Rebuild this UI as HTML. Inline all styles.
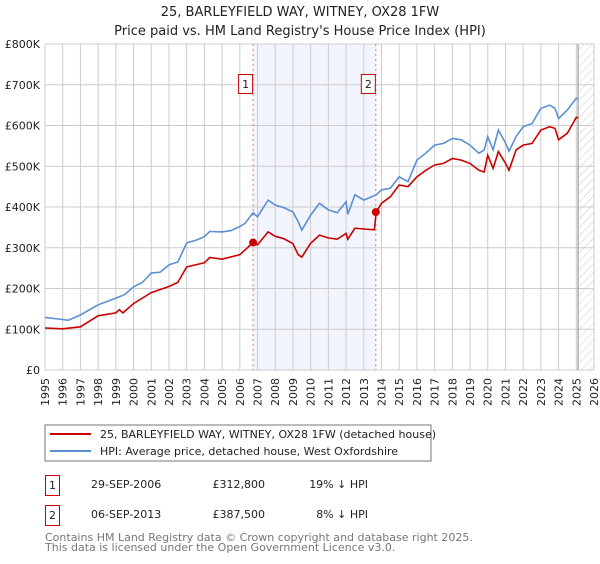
<!DOCTYPE html>
<html><head><meta charset="utf-8"><style>
body{margin:0;background:#fff;width:600px;height:560px;overflow:hidden;font-family:"DejaVu Sans","Liberation Sans",sans-serif}
svg text{font-family:"DejaVu Sans","Liberation Sans",sans-serif}
</style></head><body>
<svg id="chart" width="600" height="560">
<defs><pattern id="hatch" width="6" height="6" patternUnits="userSpaceOnUse" patternTransform="rotate(45)"><line x1="0" y1="0" x2="0" y2="6" stroke="#bbb" stroke-width="0.8"/></pattern></defs>
<text x="300" y="16" text-anchor="middle" font-size="13" fill="#222">25, BARLEYFIELD WAY, WITNEY, OX28 1FW</text>
<text x="300" y="35" text-anchor="middle" font-size="13" fill="#222">Price paid vs. HM Land Registry's House Price Index (HPI)</text>
<g id="plot"></g>
<rect x="45" y="425" width="386" height="36" fill="#fff" stroke="#777"/>
<line x1="50" y1="434" x2="91" y2="434" stroke="#cc0000" stroke-width="2"/>
<text x="100" y="438" font-size="11" fill="#222">25, BARLEYFIELD WAY, WITNEY, OX28 1FW (detached house)</text>
<line x1="50" y1="451" x2="91" y2="451" stroke="#5b8fd4" stroke-width="2"/>
<text x="100" y="455" font-size="11" fill="#222">HPI: Average price, detached house, West Oxfordshire</text>
<g font-size="11" fill="#222">
<rect x="45.5" y="475.5" width="14" height="20" fill="none" stroke="#cc0000"/>
<text x="52.5" y="489" text-anchor="middle">1</text>
<text x="91" y="488">29-SEP-2006</text>
<text x="265" y="488" text-anchor="end">£312,800</text>
<text x="368" y="488" text-anchor="end">19% ↓ HPI</text>
<rect x="45.5" y="505.5" width="14" height="20" fill="none" stroke="#cc0000"/>
<text x="52.5" y="519" text-anchor="middle">2</text>
<text x="91" y="518">06-SEP-2013</text>
<text x="265" y="518" text-anchor="end">£387,500</text>
<text x="368" y="518" text-anchor="end">8% ↓ HPI</text>
</g>
<text x="45" y="541" font-size="11" fill="#777">Contains HM Land Registry data © Crown copyright and database right 2025.</text>
<text x="45" y="551" font-size="11" fill="#777">This data is licensed under the Open Government Licence v3.0.</text>
</svg>
<script>
const hpiYears=[1995,1996,1996.3,1997,1998,1999,1999.5,2000,2000.5,2001,2001.5,2002,2002.5,2003,2003.5,2004,2004.3,2005,2005.5,2006,2006.3,2006.75,2007,2007.6,2008,2008.5,2009,2009.3,2009.5,2010,2010.5,2011,2011.5,2012,2012.1,2012.5,2013,2013.7,2014,2014.5,2015,2015.5,2016,2016.5,2017,2017.5,2018,2018.5,2019,2019.5,2019.8,2020,2020.3,2020.6,2021,2021.2,2021.6,2022,2022.5,2023,2023.5,2023.8,2024,2024.5,2025,2025.1];
const hpiValues=[129,124,122,135,160,176,185,204,215,238,240,258,265,312,318,327,340,339,342,352,360,386,376,417,405,398,388,364,343,380,409,393,386,413,382,430,417,430,442,446,474,462,515,532,552,556,568,565,552,532,540,573,540,589,557,537,573,597,605,642,650,642,617,638,667,665];
const priceYears=[1995,1996,1997,1998,1999,1999.2,1999.4,2000,2001,2002,2002.5,2003,2004,2004.3,2005,2006,2006.75,2007,2007.6,2008,2008.5,2009,2009.3,2009.5,2010,2010.5,2011,2011.5,2012,2012.1,2012.5,2013,2013.6,2013.7,2014,2014.5,2015,2015.5,2016,2016.5,2017,2017.5,2018,2018.5,2019,2019.5,2019.8,2020,2020.3,2020.6,2021,2021.2,2021.6,2022,2022.5,2023,2023.5,2023.8,2024,2024.5,2025,2025.1];
const priceValues=[103,101,106,133,140,148,140,163,190,205,215,253,263,276,272,283,313,307,339,328,322,310,283,277,311,331,324,321,335,321,348,346,344,387.5,409,425,454,450,474,490,503,507,519,515,507,490,486,527,495,536,507,490,540,552,556,589,597,593,565,581,620,618];
const saleYears=[2006.75,2013.68];
const saleValues=[312.8,387.5];
const saleLabels=["1","2"];
const yTicks=[0,100,200,300,400,500,600,700,800];
const yTickLabels=["£0","£100K","£200K","£300K","£400K","£500K","£600K","£700K","£800K"];
const xStart=1995,xEnd=2026,dataEnd=2025.1;

const L=45,R=594,T=44,B=370;
const X=y=>L+(y-xStart)/(xEnd-xStart)*(R-L);
const Y=v=>B-v/800*(B-T);
const g=document.getElementById('plot');
const NS='http://www.w3.org/2000/svg';
function mk(tag,attrs){const e=document.createElementNS(NS,tag);for(const k in attrs)e.setAttribute(k,attrs[k]);g.appendChild(e);return e;}
let e;
e=mk('rect',{x:X(saleYears[0]),y:T,width:X(saleYears[1])-X(saleYears[0]),height:B-T,fill:'#f2f5fd'});


e=mk('rect',{x:X(dataEnd),y:T,width:R-X(dataEnd),height:B-T,fill:'url(#hatch)'});


for(let yr=xStart;yr<=xEnd;yr++){
 e=mk('line',{x1:X(yr),x2:X(yr),y1:T,y2:B,stroke:'#ccc','stroke-width':1});
 
 
 e=mk('text',{x:0,y:0,transform:`translate(${X(yr)+4},${B+8}) rotate(-90)`,'text-anchor':'end','font-size':11,fill:'#222'});
 e.textContent=yr;
 
 
}
yTicks.forEach((v,i)=>{
 e=mk('line',{x1:L,x2:R,y1:Y(v),y2:Y(v),stroke:'#ccc','stroke-width':1});
 
 
 e=mk('text',{x:40,y:Y(v)+4,'text-anchor':'end','font-size':11,fill:'#222'});
 e.textContent=yTickLabels[i];
 
 
});
e=mk('line',{x1:X(dataEnd),x2:X(dataEnd),y1:T,y2:B,stroke:'#888','stroke-width':1});


saleYears.forEach((yr,i)=>{
 e=mk('line',{x1:X(yr),x2:X(yr),y1:T,y2:B,stroke:'#f07070','stroke-dasharray':'2,3','stroke-width':1});
 
 
});
function pts(xs,vs){return xs.map((x,i)=>X(x).toFixed(1)+','+Y(vs[i]).toFixed(1)).join(' ');}
e=mk('polyline',{points:pts(hpiYears,hpiValues),fill:'none',stroke:'#5b8fd4','stroke-width':1.6});


e=mk('polyline',{points:pts(priceYears,priceValues),fill:'none',stroke:'#cc0000','stroke-width':1.6});


saleYears.forEach((yr,i)=>{
 e=mk('circle',{cx:X(yr),cy:Y(saleValues[i]),r:4,fill:'#cc0000'});
 
 
 e=mk('rect',{x:X(yr)-14.5,y:74.5,width:14,height:19,fill:'#fff',stroke:'#cc0000'});
 
 
 e=mk('text',{x:X(yr)-7.5,y:88,'text-anchor':'middle','font-size':11,fill:'#222'});
 e.textContent=saleLabels[i];
 
 
});
</script>
</body></html>
